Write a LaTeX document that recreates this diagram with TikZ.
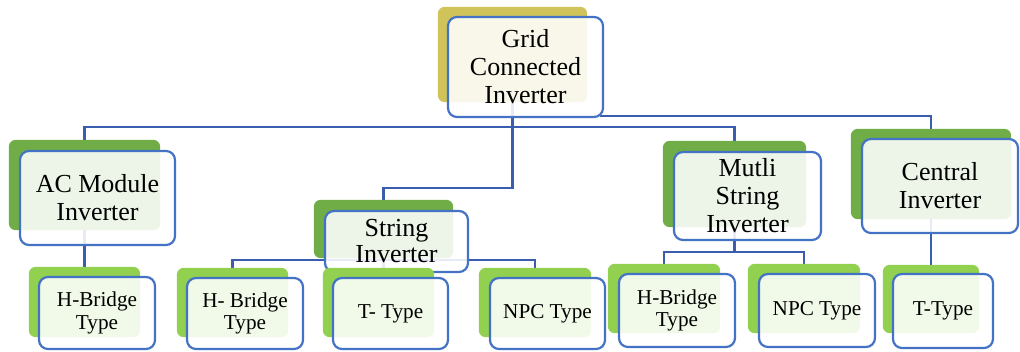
\documentclass[tikz,border=0pt]{standalone}
\usepackage{fontspec}
\setmainfont{Liberation Serif}
\newfontfamily\tnr{Liberation Serif}
\definecolor{gold}{HTML}{CFC35A}
\definecolor{dgreen}{HTML}{70AD47}
\definecolor{lgreen}{HTML}{92D050}
\definecolor{bblue}{HTML}{4472C4}
\definecolor{cblue}{HTML}{3A5DAE}
\tikzset{
  backbox/.style={rounded corners=7pt, inner sep=0pt, draw=none},
  frontbox/.style={rounded corners=9pt, inner sep=0pt, draw=bblue, line width=2.2pt,
    fill=white, fill opacity=0.88, text opacity=1, align=center},
  bigtxt/.style={font=\tnr\fontsize{26}{28}\selectfont},
  tighttxt/.style={font=\tnr\fontsize{26}{26}\selectfont},
  smalltxt/.style={font=\tnr\fontsize{21.2}{22.5}\selectfont},
  conn/.style={draw=cblue, line width=2.2pt},
}
\begin{document}
\begin{tikzpicture}[x=1pt,y=-1pt]
\useasboundingbox (0,0) rectangle (1020,351);
% junction coordinates
\coordinate (j1) at (0,127);
\coordinate (j2) at (0,188);
\coordinate (j3) at (0,260);
\coordinate (j4) at (0,252);
% back boxes (positions needed for connectors)
\path
  (512.5,54.5) node[backbox, minimum width=149pt, minimum height=95pt] (rootB) {}
  (84.5,185)   node[backbox, minimum width=151pt, minimum height=90pt] (acB) {}
  (383.5,229)  node[backbox, minimum width=139pt, minimum height=58pt] (strB) {}
  (734.5,184)  node[backbox, minimum width=143pt, minimum height=86pt] (mulB) {}
  (931,174)    node[backbox, minimum width=160pt, minimum height=90pt] (cenB) {}
  (84.5,302)   node[backbox, minimum width=111pt, minimum height=70pt] (achB) {}
  (232.5,302.5) node[backbox, minimum width=111pt, minimum height=69pt] (sthB) {}
  (378.5,302.5) node[backbox, minimum width=111pt, minimum height=69pt] (sttB) {}
  (535,302.5)  node[backbox, minimum width=112pt, minimum height=69pt] (stnB) {}
  (664,298.5)  node[backbox, minimum width=112pt, minimum height=69pt] (mhB) {}
  (804,298.5)  node[backbox, minimum width=112pt, minimum height=69pt] (mnB) {}
  (931,299)    node[backbox, minimum width=96pt, minimum height=68pt] (ctB) {};
% connectors (behind everything)
\draw[conn] (rootB.center) -- (rootB.center |- j1) -| (acB.north);
\draw[conn] (rootB.center |- j1) -| (mulB.north);
\draw[conn] (rootB.center) -- (rootB.center |- j2) -| (strB.north);
\draw[conn] (600,116) coordinate (rc) -| (cenB.north);
\draw[conn] (acB.center) -- (achB.north);
\draw[conn] (strB.center) -- (strB.center |- sttB.north);
\draw[conn] (sthB.north) -- (sthB.north |- j3) -- (stnB.north |- j3) -- (stnB.north);
\draw[conn] (mulB.center) -- (mulB.center |- j4);
\draw[conn] (mhB.north) -- (mhB.north |- j4) -- (mnB.north |- j4) -- (mnB.north);
\draw[conn] (cenB.center) -- (ctB.north);
% root
\fill[gold, rounded corners=7pt] (rootB.south west) rectangle (rootB.north east);
\node[frontbox, bigtxt, minimum width=155pt, minimum height=100pt] (rootF) at (525.5,67) {Grid\\Connected\\Inverter};
% level 1
\fill[dgreen, rounded corners=7pt] (acB.south west) rectangle (acB.north east);
\node[frontbox, bigtxt, minimum width=155pt, minimum height=94pt] (acF) at (97.5,198) {AC Module\\Inverter};
\fill[dgreen, rounded corners=7pt] (strB.south west) rectangle (strB.north east);
\node[frontbox, tighttxt, minimum width=143pt, minimum height=61pt] (strF) at (396.5,241.5) {String\\Inverter};
\fill[dgreen, rounded corners=7pt] (mulB.south west) rectangle (mulB.north east);
\node[frontbox, bigtxt, minimum width=147pt, minimum height=88pt] (mulF) at (747.5,196) {Mutli\\String\\Inverter};
\fill[dgreen, rounded corners=7pt] (cenB.south west) rectangle (cenB.north east);
\node[frontbox, bigtxt, minimum width=156pt, minimum height=94pt] (cenF) at (940,186) {Central\\Inverter};
% level 2
\fill[lgreen, rounded corners=7pt] (achB.south west) rectangle (achB.north east);
\node[frontbox, smalltxt, minimum width=116pt, minimum height=72pt] (achF) at (97,313) {H-Bridge\\Type};
\fill[lgreen, rounded corners=7pt] (sthB.south west) rectangle (sthB.north east);
\node[frontbox, smalltxt, minimum width=116pt, minimum height=71pt] (sthF) at (245,313.5) {H- Bridge\\Type};
\fill[lgreen, rounded corners=7pt] (sttB.south west) rectangle (sttB.north east);
\node[frontbox, smalltxt, minimum width=115pt, minimum height=71pt] (sttF) at (390.5,313.5) {T- Type};
\fill[lgreen, rounded corners=7pt] (stnB.south west) rectangle (stnB.north east);
\node[frontbox, smalltxt, minimum width=115pt, minimum height=71pt] (stnF) at (547.5,313.5) {NPC Type};
\fill[lgreen, rounded corners=7pt] (mhB.south west) rectangle (mhB.north east);
\node[frontbox, smalltxt, minimum width=116pt, minimum height=73pt] (mhF) at (677,310.5) {H-Bridge\\Type};
\fill[lgreen, rounded corners=7pt] (mnB.south west) rectangle (mnB.north east);
\node[frontbox, smalltxt, minimum width=116pt, minimum height=73pt] (mnF) at (817,310.5) {NPC Type};
\fill[lgreen, rounded corners=7pt] (ctB.south west) rectangle (ctB.north east);
\node[frontbox, smalltxt, minimum width=100pt, minimum height=74pt] (ctF) at (943,311) {T-Type};
\end{tikzpicture}
\end{document}
